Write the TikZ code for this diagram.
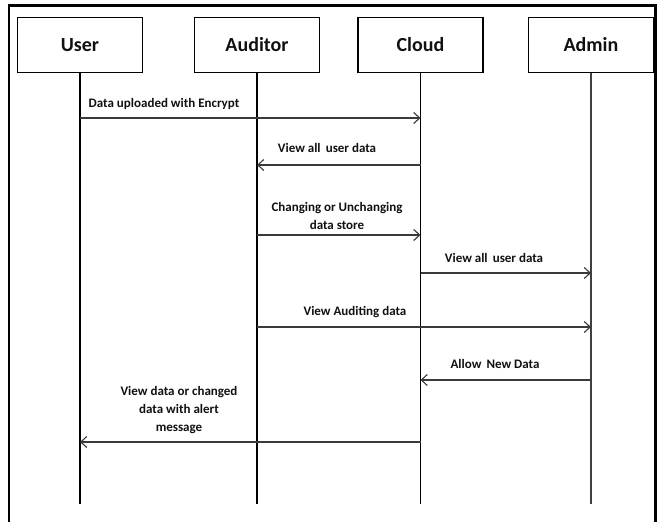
\documentclass[tikz,border=0pt]{standalone}
\usepackage{fontspec}
\setmainfont{Carlito}
\newfontfamily\headfont{Liberation Serif}
\usetikzlibrary{arrows.meta}
\definecolor{msgline}{HTML}{3A3A3A}
\definecolor{inkc}{HTML}{111111}
\tikzset{
  actor/.style={draw=black, line width=1.8pt, minimum width=125pt, minimum height=55pt,
    inner sep=0pt, font=\fontsize{20}{24}\selectfont\bfseries, text=inkc},
  lifeline/.style={draw=black, line width=1.2pt},
  msg/.style={draw=msgline, line width=1.5pt,
    -{Straight Barb[length=6pt, width=11pt, line width=1.1pt]}},
  msglabel/.style={font=\fontsize{13}{18}\selectfont\bfseries, text=inkc,
    align=center, inner sep=0pt}
}
\begin{document}
\begin{tikzpicture}[x=1pt, y=-1pt]
  \useasboundingbox (0,0) rectangle (657,522);
  \clip (0,0) rectangle (657,522);
  \fill[white] (0,0) rectangle (657,522);

  % caption above the frame, mostly outside the page
  \node[anchor=base west, inner sep=0pt, font=\headfont\fontsize{29}{32}\selectfont\bfseries]
    (caption) at (64,-6.3) {Sequence Diagram};

  % outer frame
  \draw[line width=2.6pt] (9,560) -- (9,5.5) -- (655.5,5.5) -- (655.5,560);

  % participants
  \node[actor] (user)    at (80,45)    {User};
  \node[actor] (auditor) at (257,45)   {Auditor};
  \node[actor] (cloud)   at (420.5,45) {Cloud};
  \node[actor] (admin)   at (591,45)   {Admin};

  % lifeline ends
  \coordinate (bottom) at (0,504);
  \draw[lifeline] (user.south)    -- (user.south |- bottom);
  \draw[lifeline] (auditor.south) -- (auditor.south |- bottom);
  \draw[lifeline] (cloud.south)   -- (cloud.south |- bottom);
  \draw[lifeline, draw=black!75] (admin.south) -- (admin.south |- bottom);

  % message levels
  \coordinate (m1) at (0,118);
  \coordinate (m2) at (0,165);
  \coordinate (m3) at (0,235);
  \coordinate (m4) at (0,273);
  \coordinate (m5) at (0,327);
  \coordinate (m6) at (0,380);
  \coordinate (m7) at (0,442);

  \draw[msg] (user |- m1)    -- (cloud |- m1);
  \draw[msg] (cloud |- m2)   -- (auditor |- m2);
  \draw[msg] (auditor |- m3) -- (cloud |- m3);
  \draw[msg] (cloud |- m4)   -- (admin |- m4);
  \draw[msg] (auditor |- m5) -- (admin |- m5);
  \draw[msg] (admin |- m6)   -- (cloud |- m6);
  \draw[msg] (cloud |- m7)   -- (user |- m7);

  % message labels
  \node[msglabel] (l1) at (164,104) {Data uploaded with Encrypt};
  \node[msglabel] (l2) at (327,148) {View all\, user data};
  \node[msglabel] (l3) at (337,216) {Changing or Unchanging\\data store};
  \node[msglabel] (l4) at (494,258) {View all\, user data};
  \node[msglabel] (l5) at (355,312) {View Auditing data};
  \node[msglabel] (l6) at (495,364) {Allow\, New Data};
  \node[msglabel] (l7) at (179,410) {View data or changed\\data with alert\\message};
\end{tikzpicture}
\end{document}
